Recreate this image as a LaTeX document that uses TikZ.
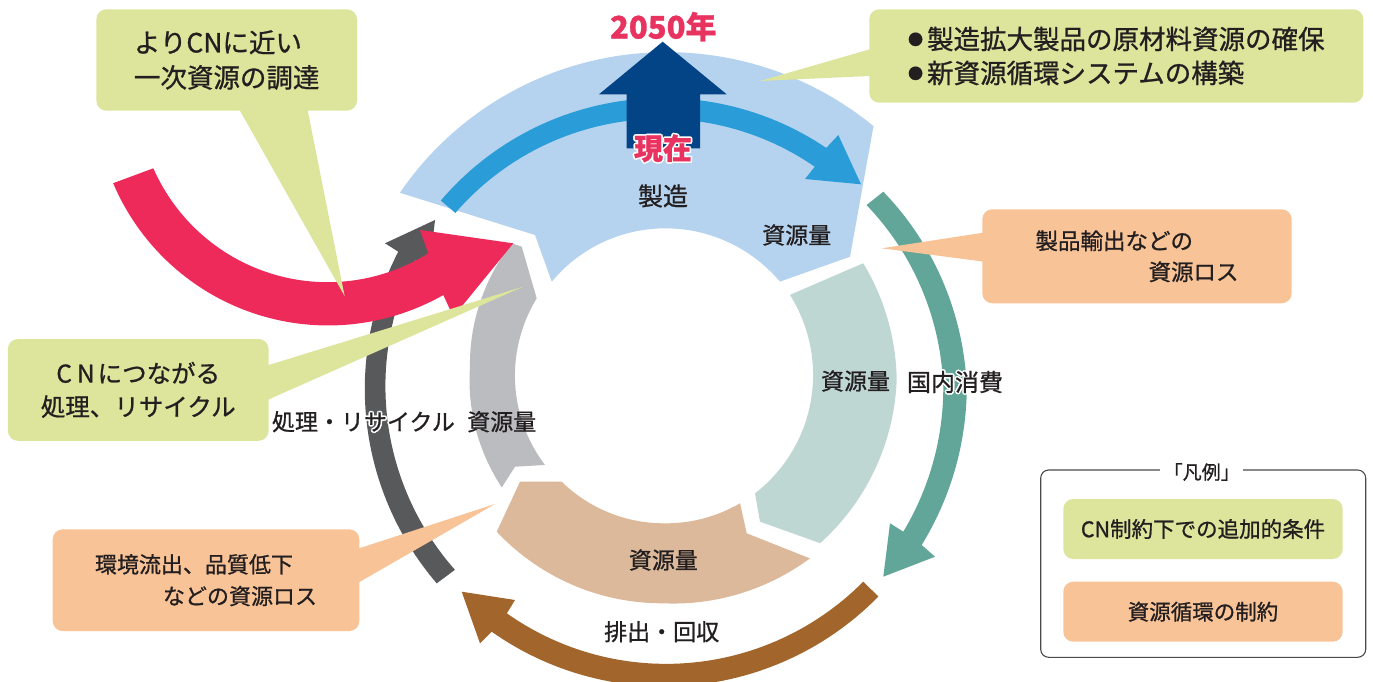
\documentclass[tikz,border=0pt]{standalone}
\usepackage{fontspec}
\setmainfont{Noto Sans CJK JP}[FakeBold=0.9]
\usetikzlibrary{calc}
\definecolor{lblue}{HTML}{B5D3EE}
\definecolor{mblue}{HTML}{2A9DD8}
\definecolor{dblue}{HTML}{034486}
\definecolor{cred}{HTML}{EE2A5B}
\definecolor{tealL}{HTML}{BFD7D3}
\definecolor{tealD}{HTML}{62A69A}
\definecolor{tanL}{HTML}{DCB99A}
\definecolor{brownD}{HTML}{A2652B}
\definecolor{grayL}{HTML}{BBBCC0}
\definecolor{grayD}{HTML}{58595B}
\definecolor{cgreen}{HTML}{DCE59B}
\definecolor{corange}{HTML}{F9C398}
\definecolor{ctext}{HTML}{231F20}
\definecolor{redtext}{HTML}{E8325F}
\definecolor{legframe}{HTML}{4A4A4A}
% polar arc around (#1,#2) from angle #3 to #4, radius varying linearly #5 -> #6
\newcommand\parc[6]{plot[domain=#3:#4,samples=60,variable=\t]({#1+((#5)+((#6)-(#5))*(\t-(#3))/((#4)-(#3)))*cos(\t)},{#2+((#5)+((#6)-(#5))*(\t-(#3))/((#4)-(#3)))*sin(\t)})}
% same, joined to the current point by a straight line
\newcommand\lparc[6]{-- plot[domain=#3:#4,samples=60,variable=\t]({#1+((#5)+((#6)-(#5))*(\t-(#3))/((#4)-(#3)))*cos(\t)},{#2+((#5)+((#6)-(#5))*(\t-(#3))/((#4)-(#3)))*sin(\t)})}
% label with a thin white outline (used where a label crosses a coloured band)
\newcommand\halonode[5][ctext]{%
  \foreach \hx/\hy in {1.6/0,-1.6/0,0/1.6,0/-1.6,1.15/1.15,-1.15/1.15,1.15/-1.15,-1.15/-1.15}{%
    \node[text=white,font=#4,inner sep=0pt] at ([shift={(\hx,\hy)}]#3) {#5};}%
  \node[text=#1,font=#4,inner sep=0pt] (#2) at (#3) {#5};}
\newcommand\bul{\raisebox{4pt}{\fontsize{15}{15}\selectfont ●}\hspace{4pt}}
\tikzset{
  callg/.style={fill=cgreen, rounded corners=10pt, inner sep=0pt, text=ctext},
  callo/.style={fill=corange, rounded corners=10pt, inner sep=0pt, text=ctext},
  lbl/.style={text=ctext, inner sep=0pt},
}
\begin{document}
\begin{tikzpicture}[x=1pt,y=-1pt]
\useasboundingbox (0,0) rectangle (1373,682);
\fill[white] (0,0) rectangle (1373,682);

% ---- ring segments ----
\fill[lblue] \parc{663}{377}{-145}{-50}{321.2}{327.5} -- (850,256.7)
  \lparc{663}{377}{-39.2}{-139.4}{150.9}{146.5} -- (535,235) -- cycle;
\fill[tealL] \parc{663}{377}{-29.6}{0.7}{230.3}{233.7} \lparc{663}{377}{0.7}{46.6}{233.7}{228.7}
  -- (760,521.7) \lparc{663}{377}{51.65}{-32.9}{148.3}{151.2} -- cycle;
\fill[tanL] \parc{663}{377}{51}{90}{233.4}{226.3} \lparc{663}{377}{90}{137.07}{226.3}{227.1}
  -- (520,481.7) \lparc{663}{377}{134.06}{90}{145.7}{146.3} \lparc{663}{377}{90}{58.6}{146.3}{147.9}
  -- (746.7,533.3) -- cycle;
\fill[grayL] \parc{663}{377}{145.6}{183}{195.4}{193.3} \lparc{663}{377}{183}{221.5}{193.3}{201.9}
  -- (521.7,246.7) -- (536.7,298.3) \lparc{663}{377}{211.9}{143.3}{148.8}{147.2} -- (515,466.7) -- cycle;

% ---- arrows on the ring ----
\fill[mblue] \parc{663}{390}{-139.55}{-56}{292}{292} -- (838.3,135) -- (861,184.3) -- (805,179)
  \lparc{663}{390}{-55.8}{-139.55}{270}{272.9} -- cycle;
\fill[dblue] (626.7,148.3) -- (626.7,94.3) -- (599,94.3) -- (662.7,41.7) -- (726.7,94.3) -- (700,94.3) -- (700,148.3) -- cycle;
\fill[tealD] \parc{663}{387}{-41.8}{0}{273}{280.3} \lparc{663}{387}{0}{31.05}{280.3}{280.5}
  -- (890,523.3) -- (883.3,576.7) -- (935,556.7) -- (921.7,545)
  \lparc{663}{387}{31.4}{0}{303.1}{303.8} \lparc{663}{387}{0}{-41.55}{303.8}{294.4} -- cycle;
\fill[brownD] \parc{663}{387}{44.2}{124.6}{279.3}{275} -- (515,600) -- (461.7,591.7) -- (480,643.3) -- (491.7,631.7)
  \lparc{663}{387}{125}{44.2}{298.7}{300.5} -- cycle;
\fill[grayD] \parc{663}{387}{138.7}{207.1}{277}{278} -- (429.6,268) -- (435,220) -- (385,243.3) -- (398.3,251.7)
  \lparc{663}{387}{207.1}{139.05}{297.3}{299.6} -- cycle;
% big red inflow arrow
\fill[cred] \parc{328}{92}{157}{60.4}{233.4}{233.5} -- (453.3,316.7) -- (513.3,243.3) -- (420,230) -- (428.3,253.3)
  \lparc{328}{92}{58.1}{156.4}{190}{190.6} -- cycle;

% ---- callouts ----
\node[callg, minimum width=260.6pt, minimum height=101.4pt, align=left, font=\fontsize{26.5}{35}\selectfont] (tl) at (226.7,60) {よりCNに近い\\一次資源の調達};
\coordinate (tlTip) at (344.6,296);
\fill[cgreen] ($(tl.south west)+(141.1,-5)$) -- (tlTip) -- ($(tl.south west)+(210.6,-5)$) -- cycle;

\node[callg, minimum width=260.7pt, minimum height=101.7pt, align=center, font=\fontsize{24.5}{33.3}\selectfont] (lb) at (138.25,389.9) {C\hspace{5pt}N\hspace{3pt}につながる\\処理、リサイクル};
\coordinate (lbTip) at (523,286.7);
\fill[cgreen] ($(lb.north east)+(-5,27.7)$) -- (lbTip) -- ($(lb.north east)+(-5,62.7)$) -- cycle;

\node[callg, minimum width=494pt, minimum height=93.4pt, align=left, font=\fontsize{26.5}{34}\selectfont] (tr) at (1116.3,56) {\bul 製造拡大製品の原材料資源の確保\\\bul 新資源循環システムの構築};
\coordinate (trTip) at (760,81);
\fill[cgreen] ($(tr.north west)+(5,39)$) -- (trTip) -- ($(tr.north west)+(5,66.7)$) -- cycle;

\node[callo, minimum width=309.4pt, minimum height=94pt, align=left, font=\fontsize{22.5}{31}\selectfont] (or1) at (1137,256.3) {製品輸出などの\\\hspace*{113pt}資源ロス};
\coordinate (or1Tip) at (881.7,248.3);
\fill[corange] ($(or1.north west)+(5,23)$) -- (or1Tip) -- ($(or1.north west)+(5,53)$) -- cycle;

\node[callo, minimum width=306.6pt, minimum height=101.7pt, align=left, font=\fontsize{22}{31.7}\selectfont] (or2) at (206,580.2) {環境流出、品質低下\\\hspace*{68pt}などの資源ロス};
\coordinate (or2Tip) at (495,504);
\fill[corange] ($(or2.north east)+(-5,20.7)$) -- (or2Tip) -- ($(or2.north east)+(-5,55.7)$) -- cycle;

% ---- labels ----
\node[text=redtext, font=\bfseries\fontsize{31}{31}\selectfont, inner sep=0pt] (y2050) at (663.3,26.7) {2050年};
\halonode[redtext]{now}{663,148.3}{\bfseries\fontsize{29}{29}\selectfont}{現在}
\node[lbl, font=\fontsize{25}{25}\selectfont] (make) at (663,196) {製造};
\node[lbl, font=\fontsize{23}{23}\selectfont] (qB) at (796.7,235) {資源量};
\node[lbl, font=\fontsize{23}{23}\selectfont] (qT) at (855.5,381) {資源量};
\halonode{dom}{955,382}{\fontsize{24}{24}\selectfont}{国内消費}
\node[lbl, font=\fontsize{23}{23}\selectfont] (qTan) at (663.3,560) {資源量};
\node[lbl, font=\fontsize{23}{23}\selectfont] (emit) at (661.7,631.7) {排出・回収};
\node[lbl, font=\fontsize{23}{23}\selectfont] (qG) at (501.7,421.7) {資源量};
\halonode{recy}{363.4,421.7}{\fontsize{23}{23}\selectfont}{処理・リサイクル}

% ---- legend ----
\node[draw=legframe, line width=1.1pt, rounded corners=8pt, minimum width=325pt, minimum height=187.3pt, inner sep=0pt] (lg) at (1203.2,563.65) {};
\node[fill=white, inner xsep=3.5pt, inner ysep=1pt, text=ctext, font=\fontsize{19}{19}\selectfont] (lgT) at (1201.7,472) {「凡例」};
\node[callg, minimum width=279.4pt, minimum height=60pt, font=\fontsize{21.5}{21.5}\selectfont] (lgA) at (1203,529) {CN制約下での追加的条件};
\node[callo, minimum width=279.4pt, minimum height=60pt, font=\fontsize{21.5}{21.5}\selectfont] (lgB) at (1203,611.7) {資源循環の制約};
\end{tikzpicture}
\end{document}
